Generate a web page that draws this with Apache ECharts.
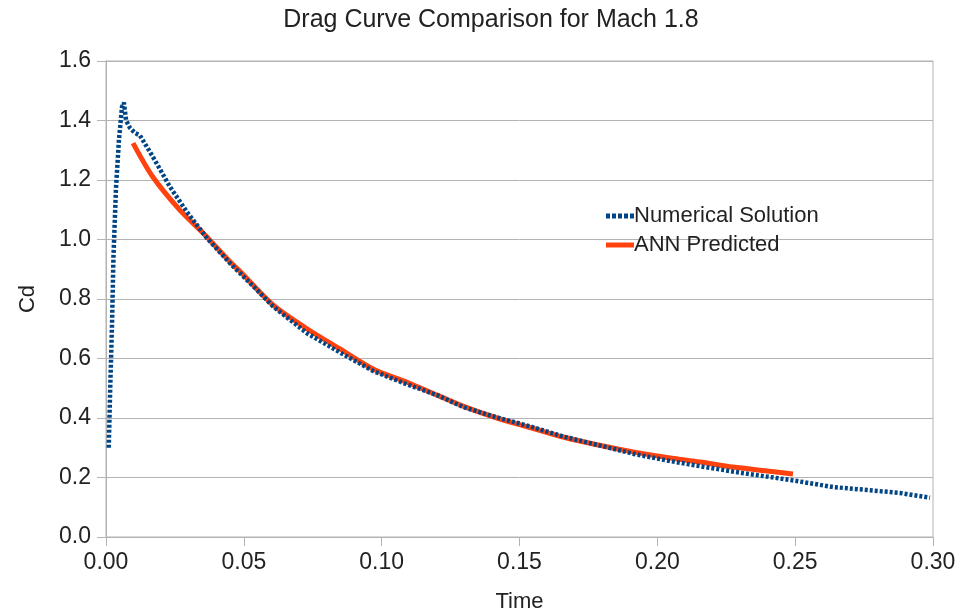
<!DOCTYPE html>
<html>
<head>
<meta charset="utf-8">
<script src="https://cdn.jsdelivr.net/npm/echarts@6/dist/echarts.min.js"></script>
<style>html,body{margin:0;padding:0;background:#fff;}#c{width:961px;height:615px;}</style>
</head>
<body>
<div id="c"></div>
<script>
var numTime = [0.0010,0.0015,0.0022,0.0027,0.0036,0.0047,0.0058,0.0065,0.0073,0.0087,0.0105,0.0123,0.0170,0.0232,0.0294,0.0366,0.0450,0.0548,0.0606,0.0729,0.0849,0.0969,0.1092,0.1201,0.1295,0.1418,0.1538,0.1658,0.1781,0.1912,0.2035,0.2155,0.2274,0.2398,0.2507,0.2637,0.2761,0.2880,0.2989];
var numCd   = [0.30,0.49,0.72,0.94,1.17,1.335,1.445,1.46,1.40,1.375,1.358,1.35,1.278,1.177,1.092,1.005,0.92,0.83,0.775,0.685,0.62,0.558,0.513,0.477,0.437,0.402,0.372,0.338,0.31,0.28,0.257,0.238,0.22,0.203,0.188,0.168,0.158,0.148,0.132];
var annTime = [0.0098,0.0170,0.0268,0.0352,0.0450,0.0486,0.0606,0.0729,0.0849,0.0969,0.1092,0.1201,0.1295,0.1418,0.1538,0.1658,0.1781,0.1912,0.2035,0.2155,0.2274,0.2398,0.2492];
var annCd   = [1.324,1.21,1.099,1.022,0.925,0.893,0.78,0.70,0.632,0.565,0.52,0.477,0.44,0.40,0.368,0.336,0.31,0.286,0.267,0.252,0.235,0.222,0.212];
var xTicks = [0.00,0.05,0.10,0.15,0.20,0.25,0.30];
var yTicks = [0.0,0.2,0.4,0.6,0.8,1.0,1.2,1.4,1.6];

function pairs(a,b){return a.map(function(v,i){return [v,b[i]];});}
var font = 'Liberation Sans';
var txt = '#222';
var dashIcon = 'path://M0,0h4v5h-4z M6,0h4v5h-4z M12,0h4v5h-4z M18,0h4v5h-4z M24,0h4v5h-4z';
var solidIcon = 'path://M0,0h28v5h-28z';
var chart = echarts.init(document.getElementById('c'));
chart.setOption({
  animation:false,
  backgroundColor:'#fff',
  title:{text:'Drag Curve Comparison for Mach 1.8',left:486,top:3,textAlign:'center',
    textStyle:{fontFamily:font,fontSize:25,fontWeight:'normal',color:txt}},
  grid:{left:106,right:28,top:61,bottom:78,show:true,borderColor:'#b3b3b3',borderWidth:1,
    containLabel:false,outerBoundsMode:'none'},
  legend:{orient:'vertical',left:601,top:200,itemWidth:28,itemHeight:5,itemGap:7,
    textStyle:{fontFamily:font,fontSize:22,color:txt,padding:[0,0,0,-5]},
    data:[{name:'Numerical Solution',icon:dashIcon},{name:'ANN Predicted',icon:solidIcon}]},
  xAxis:{type:'value',min:0,max:0.3,interval:0.05,name:'Time',nameLocation:'middle',nameGap:54,
    nameTextStyle:{fontFamily:font,fontSize:22,color:txt},
    axisLine:{show:true,lineStyle:{color:'#b3b3b3'}},
    axisTick:{show:true,length:9,lineStyle:{color:'#b3b3b3'}},
    axisLabel:{fontFamily:font,fontSize:23,color:txt,margin:14,
      formatter:function(v){return v.toFixed(2);}},
    splitLine:{show:false}},
  yAxis:{type:'value',min:0,max:1.6,interval:0.2,name:'Cd',nameLocation:'middle',nameGap:67,
    nameTextStyle:{fontFamily:font,fontSize:22,color:txt},
    axisLine:{show:true,lineStyle:{color:'#b3b3b3'}},
    axisTick:{show:true,length:9,lineStyle:{color:'#b3b3b3'}},
    axisLabel:{fontFamily:font,fontSize:23,color:txt,margin:15,
      formatter:function(v){return v.toFixed(1);}},
    splitLine:{show:true,lineStyle:{color:'#b3b3b3'}}},
  series:[
    {name:'Numerical Solution',type:'line',data:pairs(numTime,numCd),symbol:'none',smooth:false,
      lineStyle:{color:'#004586',width:4.5,type:[3,2]},itemStyle:{color:'#004586'},z:2},
    {name:'ANN Predicted',type:'line',data:pairs(annTime,annCd),symbol:'none',smooth:0.3,
      lineStyle:{color:'#ff420e',width:5},itemStyle:{color:'#ff420e'},z:1}
  ]
});
</script>
</body>
</html>
